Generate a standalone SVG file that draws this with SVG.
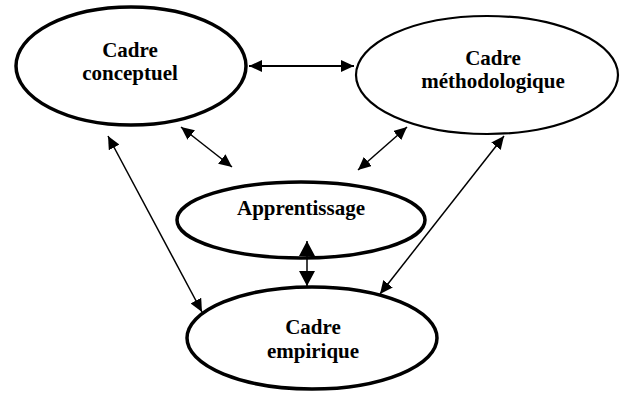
<svg xmlns="http://www.w3.org/2000/svg" width="621" height="393" viewBox="0 0 621 393">
  <style>
    .node ellipse { fill: #ffffff; stroke: #000000; }
    .thick { stroke-width: 3.5; }
    .thin { stroke-width: 2.2; }
    .label { font-family: "Liberation Serif", "Times New Roman", serif; font-weight: bold; font-size: 21px; fill: #000000; text-anchor: middle; }
    .edge { stroke: #000000; stroke-width: 1.5; fill: none; marker-start: url(#head); marker-end: url(#head); }
    .edge.wide { marker-start: url(#bighead); marker-end: url(#bighead); }
  </style>
  <defs>
    <marker id="head" markerUnits="userSpaceOnUse" markerWidth="14" markerHeight="12" refX="13" refY="6" orient="auto-start-reverse">
      <path d="M0,0 L13,6 L0,12 z" fill="#000000"/>
    </marker>
    <marker id="bighead" markerUnits="userSpaceOnUse" markerWidth="16" markerHeight="16" refX="15" refY="8" orient="auto-start-reverse">
      <path d="M0,0 L15,8 L0,16 z" fill="#000000"/>
    </marker>
  </defs>
  <rect width="621" height="393" fill="#ffffff"/>

  <g id="cadre-conceptuel" class="node">
    <ellipse class="thick" cx="131" cy="66" rx="115" ry="59"/>
    <text class="label" x="130" y="57">Cadre</text>
    <text class="label" x="130" y="80">conceptuel</text>
  </g>

  <g id="cadre-methodologique" class="node">
    <ellipse class="thin" cx="487" cy="75" rx="131" ry="59"/>
    <text class="label" x="493" y="65">Cadre</text>
    <text class="label" x="493" y="88">méthodologique</text>
  </g>

  <g id="apprentissage" class="node">
    <ellipse class="thick" cx="301" cy="220" rx="124" ry="38"/>
    <text class="label" x="301" y="215">Apprentissage</text>
  </g>

  <g id="cadre-empirique" class="node">
    <ellipse class="thick" cx="312" cy="338" rx="125" ry="51"/>
    <text class="label" x="313" y="334">Cadre</text>
    <text class="label" x="313" y="358">empirique</text>
  </g>

  <g id="edges">
    <line class="edge" x1="249" y1="66" x2="354" y2="66" style="stroke-width:2"/>
    <line class="edge" x1="181" y1="127" x2="232" y2="167"/>
    <line class="edge" x1="407" y1="127" x2="358" y2="170"/>
    <line class="edge" x1="108" y1="136" x2="202" y2="312"/>
    <line class="edge" x1="504" y1="136" x2="380" y2="294"/>
    <line class="edge wide" x1="307" y1="241" x2="307" y2="286"/>
  </g>
</svg>
